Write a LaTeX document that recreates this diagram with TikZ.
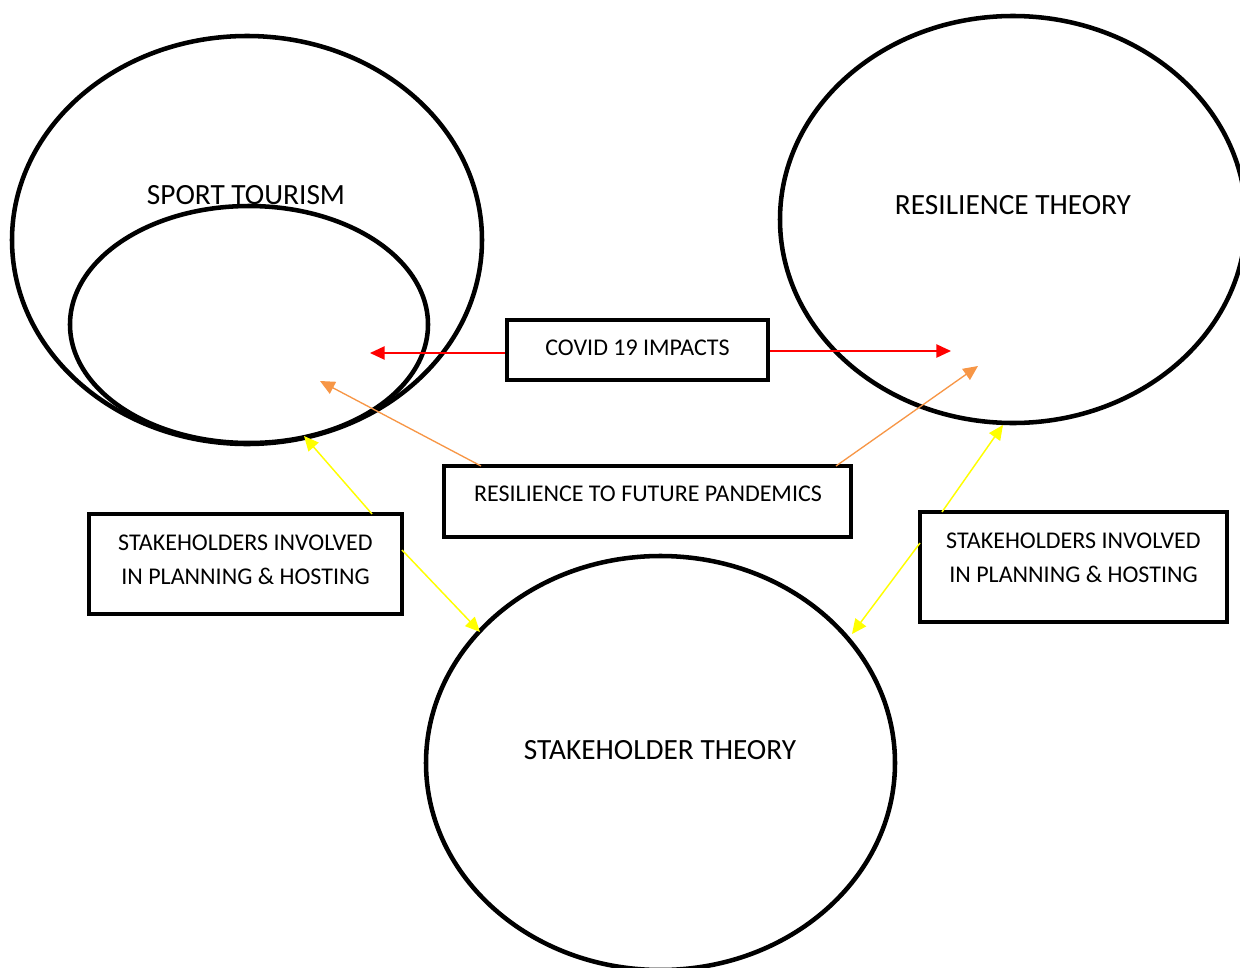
\documentclass[tikz,border=0pt]{standalone}
\usepackage{fontspec}
\setmainfont{Carlito}
\usetikzlibrary{shapes.geometric,arrows.meta}
\definecolor{redarr}{HTML}{FF0000}
\definecolor{orangearr}{HTML}{F79646}
\definecolor{yellowarr}{HTML}{FFFF00}
\begin{document}
\begin{tikzpicture}[x=0.75pt,y=-0.75pt,
  oval/.style={draw=black,line width=3.4pt,ellipse,inner sep=0pt},
  textbox/.style={draw=black,line width=3.4pt,inner sep=0pt},
  big/.style={font=\fontsize{22}{26}\selectfont},
  small/.style={font=\fontsize{18}{25.5}\selectfont,align=center},
  tip/.style={-{Triangle[length=11pt,width=10pt]}},
  redline/.style={draw=redarr,line width=1.1pt,tip},
  orangeline/.style={draw=orangearr,line width=1pt,tip},
  yellowline/.style={draw=yellowarr,line width=1.1pt,tip}]
\useasboundingbox (0,0) rectangle (1240,968);
\clip (0,0) rectangle (1240,968);
% ellipses
\node[oval,minimum width=470*0.75pt,minimum height=408*0.75pt] (sport) at (247,240) {};
\node[oval,minimum width=358*0.75pt,minimum height=237*0.75pt] (inner) at (249,324.5) {};
\node[oval,minimum width=466*0.75pt,minimum height=407*0.75pt] (resil) at (1013,219.5) {};
\node[oval,minimum width=469*0.75pt,minimum height=414*0.75pt] (stake) at (660.5,763) {};
% ellipse labels
\node[big] (sportlbl) at (246,195) {SPORT TOURISM};
\node[big] (resillbl) at (1013,205) {RESILIENCE THEORY};
\node[big] (stakelbl) at (660,750) {STAKEHOLDER THEORY};
% boxes
\node[textbox,minimum width=261*0.75pt,minimum height=60*0.75pt] (covid) at (637.5,350) {};
\node[small] (covidlbl) at (637.5,348) {COVID 19 IMPACTS};
\node[textbox,minimum width=407*0.75pt,minimum height=71*0.75pt] (future) at (647.5,501.5) {};
\node[small] (futurelbl) at (648,494) {RESILIENCE TO FUTURE PANDEMICS};
\node[textbox,minimum width=313*0.75pt,minimum height=100*0.75pt] (lstake) at (245.5,564) {};
\node[small] (lstakelbl) at (245.5,560) {STAKEHOLDERS INVOLVED\\IN PLANNING \& HOSTING};
\node[textbox,minimum width=307*0.75pt,minimum height=110*0.75pt] (rstake) at (1073.5,567) {};
\node[small] (rstakelbl) at (1073.5,557.5) {STAKEHOLDERS INVOLVED\\IN PLANNING \& HOSTING};
% free ends
\coordinate (redL) at (370,353);
\coordinate (redR) at (951,351);
\coordinate (orL) at (320,381);
\coordinate (orR) at (978,366);
\coordinate (ylTop) at (304,436);
\coordinate (ylBot) at (480,632);
\coordinate (yrTop) at (1003,425);
\coordinate (yrBot) at (852,634);
\coordinate (ylS1) at (372,514);
\coordinate (ylS2) at (402,550);
\coordinate (yrS1) at (942,512);
\coordinate (yrS2) at (920,543);
\coordinate (orS1) at (481,466);
\coordinate (orS2) at (836,466);
% connectors
\draw[redline] (covid.west |- redL) -- (redL);
\draw[redline] (covid.east |- redR) -- (redR);
\draw[orangeline] (orS1) -- (orL);
\draw[orangeline] (orS2) -- (orR);
\draw[yellowline] (ylS1) -- (ylTop);
\draw[yellowline] (ylS2) -- (ylBot);
\draw[yellowline] (yrS1) -- (yrTop);
\draw[yellowline] (yrS2) -- (yrBot);
\end{tikzpicture}
\end{document}
